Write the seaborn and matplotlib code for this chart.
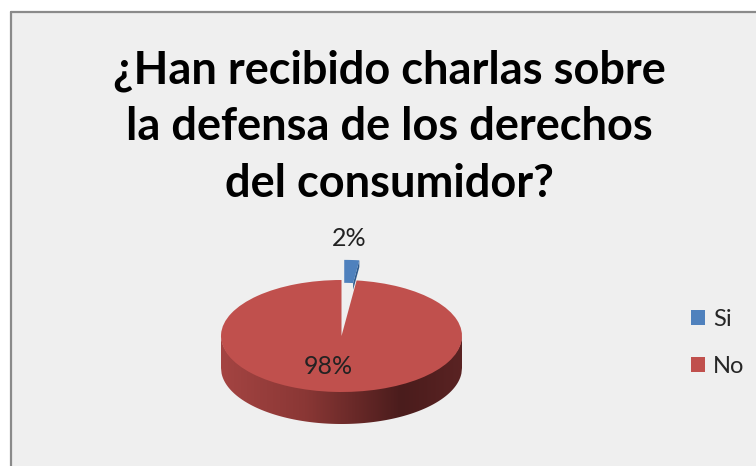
import numpy as np
import matplotlib
matplotlib.use("Agg")
import matplotlib.pyplot as plt
import seaborn as sns
from matplotlib.patches import Rectangle, Patch, Polygon
from matplotlib.lines import Line2D
from matplotlib.colors import LinearSegmentedColormap

# ---- data ----
categories = ["Si", "No"]
values = [2, 98]
colors = ["#4F81BD", "#C0504D"]
title_text = "¿Han recibido charlas sobre\nla defensa de los derechos\ndel consumidor?"

sns.set_theme(style="white")
plt.rcParams['font.family'] = ['Lato', 'DejaVu Sans']

W, H = 756, 466
fig = plt.figure(figsize=(W / 100, H / 100), dpi=100)
fig.patch.set_facecolor("white")

# chart panel (light gray with border on left/top)
fig.add_artist(Rectangle((11 / W, 0), 1, (H - 13) / H, transform=fig.transFigure,
                         facecolor="#EFEFEF", edgecolor="none", zorder=0))
fig.add_artist(Line2D([11 / W, 11 / W], [0, (H - 12) / H], transform=fig.transFigure,
                      color="#8A8A8A", lw=1.6, zorder=1))
fig.add_artist(Line2D([11 / W, 1], [(H - 12) / H, (H - 12) / H], transform=fig.transFigure,
                      color="#8A8A8A", lw=1.6, zorder=1))

# pie axes in pixel-like geometry
cx, cy = 341.5, H - 336      # pie center (px from left, px from bottom)
rx, ry = 120.5, 56.0         # ellipse radii in px
depth = 32.0                 # side depth in px

ax = fig.add_axes([0, 0, 1, 1])
ax.patch.set_alpha(0)

wedges, texts, autotexts = ax.pie(
    values, colors=colors, startangle=90, counterclock=False,
    explode=[0.36, 0], autopct="%1.0f%%",
    wedgeprops=dict(linewidth=0), textprops=dict(fontsize=18, color="#222222"))
wedges[0].set_width(0.41)
for w in wedges:
    w.set_zorder(3)

ax.set_aspect("auto")

# 3D side band with horizontal gradient (image clipped to side shape)
d = depth / ry
xs = np.linspace(-1, 1, 400)
top = -np.sqrt(np.clip(1 - xs ** 2, 0, 1))
side_pts = np.concatenate([np.column_stack([xs, top + 0.02]),
                           np.column_stack([xs[::-1], (top - d)[::-1]])])
side = Polygon(side_pts, closed=True, facecolor="none", edgecolor="none",
               transform=ax.transData)
ax.add_patch(side)
side_cmap = LinearSegmentedColormap.from_list(
    "side", [(0.0, "#A44442"), (0.35, "#8A3735"), (0.75, "#4A1C1C"), (1.0, "#5A2323")])
grad = np.linspace(0, 1, 256)[None, :]
im = ax.imshow(grad, cmap=side_cmap, extent=(-1, 1, -1 - d, 0.05), aspect="auto",
               zorder=2, interpolation="bilinear")
im.set_clip_path(side)

# thin darker side face on the exploded blue slice
b = wedges[0]
th = np.deg2rad(b.theta1)
bc = np.array(b.center)
r_out, r_in = b.r, b.r - b.width
p_out = bc + r_out * np.array([np.cos(th), np.sin(th)])
p_in = bc + r_in * np.array([np.cos(th), np.sin(th)])
ax.add_patch(Polygon([p_out, p_in, p_in + [0.0, -0.12], p_out + [0.0, -0.12]],
                     closed=True, facecolor="#2F5A8C", edgecolor="none", zorder=2.9))

ax.set_xlim(-cx / rx, (W - cx) / rx)
ax.set_ylim(-cy / ry, (H - cy) / ry)
ax.set_axis_off()

# percentage labels
autotexts[0].set_position(((349.5 - cx) / rx, (H - 238 - cy) / ry))
autotexts[1].set_position(((328 - cx) / rx, (H - 367 - cy) / ry))
for t in autotexts:
    t.set_zorder(5)

# title
fig.text(389 / W, (H - 127) / H, title_text, ha="center", va="center",
         fontsize=32.5, fontweight="bold", color="black", linespacing=1.42)

# legend
handles = [Patch(facecolor=c, edgecolor="none") for c in colors]
fig.legend(handles, categories, loc="center left", bbox_to_anchor=(679 / W, (H - 343) / H),
           frameon=False, fontsize=17, handlelength=0.6, handleheight=0.6,
           handletextpad=0.35, labelspacing=1.1, borderpad=0)

fig.savefig("out.png", dpi=100)
